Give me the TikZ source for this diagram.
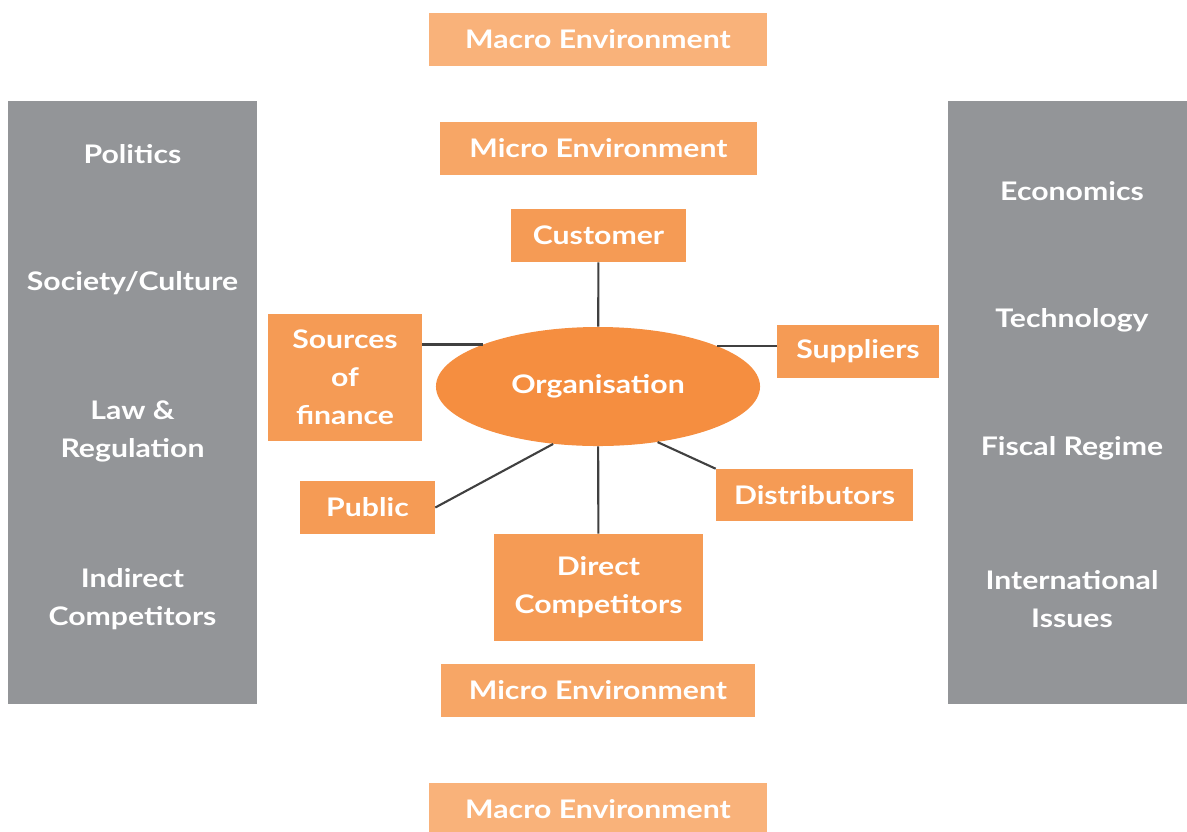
\documentclass[tikz,border=0pt]{standalone}
\usepackage{fontspec}
\setmainfont{Lato}[FakeStretch=1.18]
\usetikzlibrary{shapes.geometric}

\definecolor{macroorange}{HTML}{F9B27A}
\definecolor{microorange}{HTML}{F7A666}
\definecolor{boxorange}{HTML}{F59B55}
\definecolor{orgorange}{HTML}{F58E40}
\definecolor{panelgray}{HTML}{939598}
\definecolor{linkgray}{HTML}{404040}

\tikzset{
  every node/.style={font=\fontsize{18.2}{27}\selectfont\bfseries, text=white, align=center, inner sep=0pt},
  macro/.style={fill=macroorange, minimum width=8.45cm, minimum height=1.325cm},
  micro/.style={fill=microorange, minimum height=1.325cm},
  actor/.style={fill=boxorange},
  panel/.style={fill=panelgray, minimum width=6.225cm, minimum height=15.075cm},
  link/.style={draw=linkgray, line width=1.5pt}
}

\begin{document}
\begin{tikzpicture}[x=0.025cm, y=-0.025cm]
  \useasboundingbox (0,0) rectangle (1187,831);

  % environment labels
  \node[macro] (macrotop) at (598,39.5) {Macro Environment};
  \node[micro, minimum width=7.925cm] (microtop) at (598.5,148.5) {Micro Environment};
  \node[micro, minimum width=7.85cm] (microbot) at (598,690.5) {Micro Environment};
  \node[macro] (macrobot) at (598,809.5) {Macro Environment};

  % macro factors, left
  \node[panel] (leftpanel) at (132.5,402.5) {};
  \node (politics) at (132.5,154) {Politics};
  \node (society) at (132.5,283) {Society/Culture};
  \node (law) at (132.5,431) {Law \&\\Regulation};
  \node (indirect) at (132.5,599) {Indirect\\Competitors};

  % macro factors, right
  \node[panel] (rightpanel) at (1072.5,402.5) {};
  \node (economics) at (1072,191) {Economics};
  \node (technology) at (1072,320) {Technology};
  \node (fiscal) at (1072,448) {Fiscal Regime};
  \node (international) at (1072,599) {International\\Issues};

  % micro environment
  \node[ellipse, fill=orgorange, minimum width=8.1cm, minimum height=2.975cm] (org) at (598,386.5) {Organisation};
  \node[actor, minimum width=4.375cm, minimum height=1.325cm] (cust) at (598.5,235.5) {Customer};
  \node[actor, minimum width=3.85cm, minimum height=3.175cm] (src) at (345,377.5) {Sources\\of\\finance};
  \node[actor, minimum width=4.05cm, minimum height=1.325cm] (sup) at (858,351.5) {Suppliers};
  \node[actor, minimum width=3.375cm, minimum height=1.325cm] (pub) at (367.5,507.5) {Public};
  \node[actor, minimum width=4.925cm, minimum height=1.3cm] (dist) at (814.5,495) {Distributors};
  \node[actor, minimum width=5.225cm, minimum height=2.675cm] (dircomp) at (598.5,587.5) {Direct\\Competitors};

  \draw[link] (cust) -- (org);
  \draw[link] (src.east |- org.160.7) -- (org.160.7);
  \draw[link] (sup.west |- org.19.3) -- (org.19.3);
  \draw[link] (pub.east) -- (org.232);
  \draw[link] (dist.north west) -- (org.317.5);
  \draw[link] (dircomp) -- (org);
\end{tikzpicture}
\end{document}
